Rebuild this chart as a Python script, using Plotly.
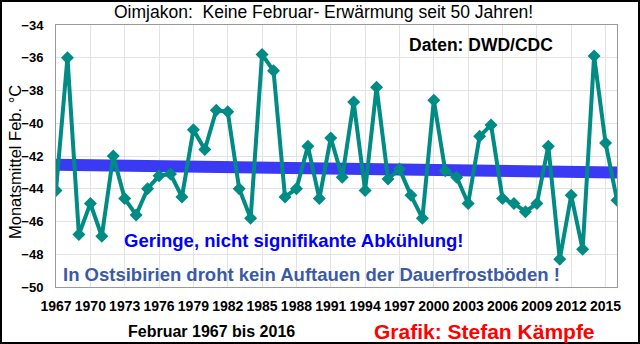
import numpy as np
import plotly.graph_objects as go

years = list(range(1967, 2017))
temps = [-44.1, -36.0, -46.8, -44.9, -46.9, -42.0, -44.6, -45.6, -44.0, -43.2,
         -43.1, -44.5, -40.4, -41.6, -39.2, -39.3, -44.0, -45.8, -35.8, -36.8,
         -44.5, -44.0, -41.4, -44.6, -40.9, -43.3, -38.7, -44.1, -37.8, -43.4,
         -42.8, -44.4, -45.8, -38.6, -42.9, -43.3, -44.9, -40.8, -40.1, -44.6,
         -44.9, -45.4, -44.9, -41.4, -48.3, -44.4, -47.7, -35.9, -41.2, -44.7]
tick_years = list(range(1967, 2016, 3))

coef = np.polyfit(years, temps, 1)
trend = np.polyval(coef, years)

L, R, T, B = 56, 23, 25, 57
W, H = 640, 344
pw, ph = W - L - R, H - T - B

def px(x):
    return (x - L) / pw

def py(y):
    return (H - B - y) / ph

fig = go.Figure()
fig.add_trace(go.Scatter(x=years, y=trend, mode="lines",
                         line=dict(color="#3a3af5", width=12), hoverinfo="skip"))
fig.add_trace(go.Scatter(x=years, y=temps, mode="lines+markers",
                         line=dict(color="#008b84", width=4),
                         marker=dict(symbol="diamond", size=10, color="#008b84")))

font = "Liberation Sans, Arial, sans-serif"
fig.update_layout(
    width=W, height=H, margin=dict(l=L, r=R, t=T, b=B),
    paper_bgcolor="white", plot_bgcolor="white", showlegend=False,
    font=dict(family=font, color="black"),
    xaxis=dict(range=[1967, 2016], tickvals=tick_years, ticktext=[str(t) for t in tick_years],
               showgrid=True, gridcolor="#e3e3e3", gridwidth=1, zeroline=False,
               showline=True, linecolor="#9a9a9a", linewidth=1, mirror=True, ticks="",
               ticklabelstandoff=6,
               tickfont=dict(size=14, weight="bold", family=font)),
    yaxis=dict(range=[-50, -34], dtick=2, showgrid=True, gridcolor="#e3e3e3", gridwidth=1,
               zeroline=False, showline=True, linecolor="#9a9a9a", linewidth=1, mirror=True,
               ticks="", ticklabelstandoff=9,
               tickfont=dict(size=13, weight="bold", family=font)),
)

fig.add_shape(type="rect", xref="paper", yref="paper",
              x0=px(1), x1=px(639), y0=py(343), y1=py(1),
              line=dict(color="black", width=2), layer="above")

def txt(x, y, s, size, color="black", bold=True, angle=0):
    fig.add_annotation(xref="paper", yref="paper", x=px(x), y=py(y), text=s,
                       showarrow=False, xanchor="center", yanchor="middle", textangle=angle,
                       font=dict(size=size, color=color, family=font,
                                 weight="bold" if bold else "normal"))

txt(323, 12, "Oimjakon:  Keine Februar- Erwärmung seit 50 Jahren!", 17.5, bold=False)
txt(15, 162, "Monatsmittel Feb. °C", 16.5, bold=False, angle=-90)
txt(481, 45, "Daten: DWD/CDC", 17.5)
txt(294, 240, "Geringe, nicht signifikante Abkühlung!", 18.5, color="#0000ff")
txt(311, 274, "In Ostsibirien droht kein Auftauen der Dauerfrostböden !", 18.5, color="#3a5aa8")
txt(211, 331, "Februar 1967 bis 2016", 16)
txt(484, 331, "Grafik: Stefan Kämpfe", 21, color="#ff0000")

fig.write_html("out.html")
